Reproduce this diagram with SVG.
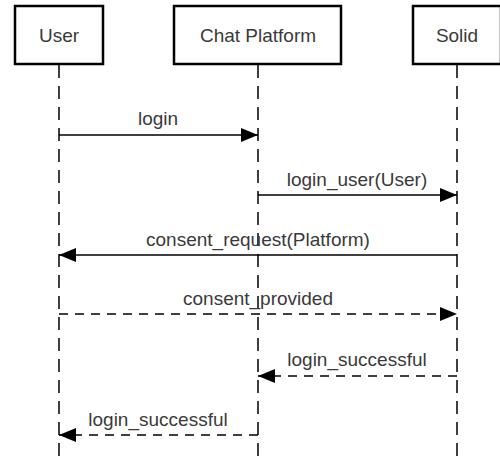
<svg xmlns="http://www.w3.org/2000/svg" width="500" height="461" viewBox="0 0 500 461">
<style>
.box{fill:#fff;stroke:#000;stroke-width:2.5}
.life{stroke:#000;stroke-width:1.5;stroke-dasharray:13 8;fill:none}
.msg{stroke:#000;stroke-width:1.5;fill:none}
.ret{stroke:#000;stroke-width:1.5;fill:none;stroke-dasharray:9 7}
text{font-family:"Liberation Sans",Arial,sans-serif;font-size:19px;fill:#3a3a3a;text-anchor:middle}
</style>
<defs>
<marker id="ah" viewBox="0 0 17 14" refX="17" refY="7" markerWidth="17" markerHeight="14" markerUnits="userSpaceOnUse" orient="auto">
<path d="M0,0 L17,7 L0,14 Z" fill="#000"/>
</marker>
</defs>
<g id="lifelines">
<line class="life" x1="59" y1="65" x2="59" y2="461"/>
<line class="life" x1="258" y1="65" x2="258" y2="461"/>
<line class="life" x1="457" y1="65" x2="457" y2="461"/>
</g>
<g id="user">
<rect class="box" x="15" y="6" width="88" height="58"/>
<text x="59" y="42">User</text>
</g>
<g id="chat-platform">
<rect class="box" x="174" y="6" width="167" height="58"/>
<text x="258" y="42">Chat Platform</text>
</g>
<g id="solid">
<rect class="box" x="413" y="6" width="88" height="58"/>
<text x="457" y="42">Solid</text>
</g>
<g id="connectors">
<line class="msg" x1="59" y1="135" x2="258" y2="135" marker-end="url(#ah)"/>
<text x="158" y="125">login</text>
<line class="msg" x1="258" y1="195" x2="457" y2="195" marker-end="url(#ah)"/>
<text x="357" y="186">login_user(User)</text>
<line class="msg" x1="457" y1="255" x2="59" y2="255" marker-end="url(#ah)"/>
<text x="258" y="246">consent_request(Platform)</text>
<line class="ret" x1="59" y1="314" x2="457" y2="314" marker-end="url(#ah)"/>
<text x="258" y="305">consent_provided</text>
<line class="ret" x1="457" y1="376" x2="258" y2="376" marker-end="url(#ah)"/>
<text x="357" y="366">login_successful</text>
<line class="ret" x1="258" y1="435" x2="59" y2="435" marker-end="url(#ah)"/>
<text x="158" y="426">login_successful</text>
</g>
</svg>
